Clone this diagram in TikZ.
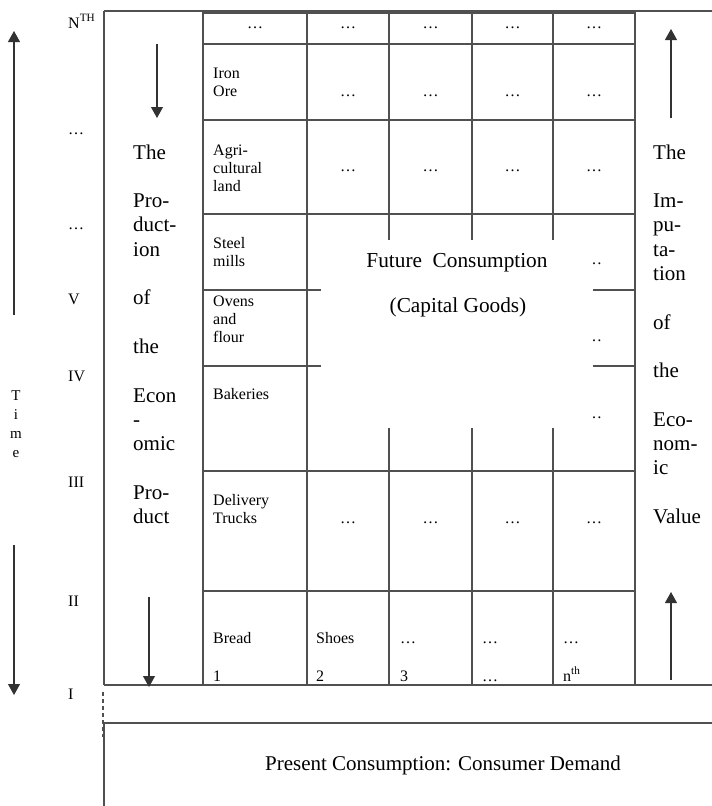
\documentclass[tikz,border=0pt]{standalone}
\usepackage{fontspec}
\setmainfont{Liberation Serif}
\usetikzlibrary{arrows.meta}
\definecolor{gridline}{RGB}{80,80,80}
\definecolor{arrowline}{RGB}{50,50,50}
\begin{document}
\begin{tikzpicture}[x=1pt,y=-1pt,
  gridrule/.style={draw=gridline,line width=1.1pt},
  framerule/.style={draw=gridline,line width=1.1pt},
  flowarrow/.style={draw=arrowline,line width=1.1pt,-{Triangle[width=12pt,length=11pt]}},
  small/.style={font=\fontsize{16}{17.8}\selectfont,inner sep=0pt,align=left},
  big/.style={font=\fontsize{21}{24.3}\selectfont,inner sep=0pt,align=left},
  cell/.style={small,anchor=base west},
  dots/.style={font=\fontsize{16}{17.8}\selectfont,inner sep=0pt,anchor=base},
  axislabel/.style={font=\fontsize{16}{17.8}\selectfont,inner sep=0pt,anchor=base west}]
\useasboundingbox (0,0) rectangle (712,806);

% outer frame
\draw[framerule] (104,11) -- (712,11);
\draw[framerule] (104,11) -- (104,685);
\draw[framerule] (104,685) -- (712,685);
\draw[framerule] (104,723) -- (712,723);
\draw[framerule] (104,723) -- (104,806);
\draw[framerule,dashed,dash pattern=on 4pt off 3pt] (103,692) -- (103,737);

% grid: horizontal rules
\foreach \yy in {13,44,120,214,290,366,471,591}
  \draw[gridrule] (203,\yy) -- (635,\yy);
% grid: vertical rules
\draw[gridrule] (203,11) -- (203,685);
\foreach \xx in {307,389,472,553}
  \draw[gridrule] (\xx,13) -- (\xx,685);
\draw[gridrule] (635,11) -- (635,685);

% first column labels (anchored at the baseline of the last line)
\node[cell] (iron) at (213,96) {Iron\\Ore};
\node[cell] (agri) at (213,191) {Agri-\\cultural\\land};
\node[cell] (steel) at (213,266) {Steel\\mills};
\node[cell] (ovens) at (213,342) {Ovens\\and\\flour};
\node[cell] (bake) at (213,399) {Bakeries};
\node[cell] (truck) at (213,523) {Delivery\\Trucks};

% ellipses in the grid
\foreach \xx [count=\i] in {255,348,430.5,512.5,594}
  \node[dots] (top\i) at (\xx,28) {…};
\foreach \xx [count=\i] in {348,430.5,512.5,594} {
  \node[dots] (ore\i) at (\xx,96) {…};
  \node[dots] (land\i) at (\xx,171) {…};
  \node[dots] (truckd\i) at (\xx,523) {…};
}
\node[dots] (rowa) at (594,264) {…};
\node[dots] (rowb) at (594,341) {…};
\node[dots] (rowc) at (594,418) {…};

% capital goods block
\fill[white] (321,240) rectangle (593,428);
\node[font=\fontsize{21.3}{24}\selectfont,inner sep=0pt,anchor=base] (future) at (457,267) {Future\ \ Consumption};
\node[font=\fontsize{21.3}{24}\selectfont,inner sep=0pt,anchor=base] (capital) at (458,312) {(Capital Goods)};

% consumer goods row
\node[cell] (bread) at (213,643) {Bread};
\node[cell] (shoes) at (316,643) {Shoes};
\node[cell] (g3) at (400,643) {…};
\node[cell] (g4) at (482,643) {…};
\node[cell] (g5) at (563,643) {…};
\node[cell] (n1) at (213,681) {1};
\node[cell] (n2) at (316,681) {2};
\node[cell] (n3) at (400,681) {3};
\node[cell] (n4) at (482,681) {…};
\node[cell] (n5) at (563,681) {n\textsuperscript{th}};

% side columns (anchored at the baseline of the last line)
\node[big,anchor=base west] (production) at (133,523.5)
  {The\\[24.3pt]Pro-\\duct-\\ion\\[24.3pt]of\\[24.3pt]the\\[24.3pt]Econ\\-\\omic\\[24.3pt]Pro-\\duct};
\node[big,anchor=base west] (imputation) at (653,523.5)
  {The\\[24.3pt]Im-\\pu-\\ta-\\tion\\[24.3pt]of\\[24.3pt]the\\[24.3pt]Eco-\\nom-\\ic\\[24.3pt]Value};

\coordinate (pa1) at (157,44);  \coordinate (pa2) at (157,118);
\coordinate (pb1) at (149,597); \coordinate (pb2) at (149,687);
\coordinate (va1) at (671,118); \coordinate (va2) at (671,29);
\coordinate (vb1) at (671,680); \coordinate (vb2) at (671,592);
\draw[flowarrow] (pa1) -- (pa2);
\draw[flowarrow] (pb1) -- (pb2);
\draw[flowarrow] (va1) -- (va2);
\draw[flowarrow] (vb1) -- (vb2);

% time axis
\coordinate (ta1) at (14,315); \coordinate (ta2) at (14,31);
\coordinate (tb1) at (14,545); \coordinate (tb2) at (14,695);
\draw[flowarrow] (ta1) -- (ta2);
\draw[flowarrow] (tb1) -- (tb2);
\node[font=\fontsize{15}{19}\selectfont,inner sep=0pt,align=center,anchor=base] (time) at (16,457) {T\\i\\m\\e};

\node[axislabel] (lN) at (68,28) {N\textsuperscript{TH}};
\node[axislabel] (ld1) at (68,134) {…};
\node[axislabel] (ld2) at (68,229) {…};
\node[axislabel] (lV) at (68,304) {V};
\node[axislabel] (lIV) at (68,381) {IV};
\node[axislabel] (lIII) at (68,487) {III};
\node[axislabel] (lII) at (68,606) {II};
\node[axislabel] (lI) at (68,699) {I};

% present consumption
\node[font=\fontsize{21}{24}\selectfont,inner sep=0pt,anchor=base] (present) at (443,770) {Present Consumption: Consumer Demand};
\end{tikzpicture}
\end{document}
